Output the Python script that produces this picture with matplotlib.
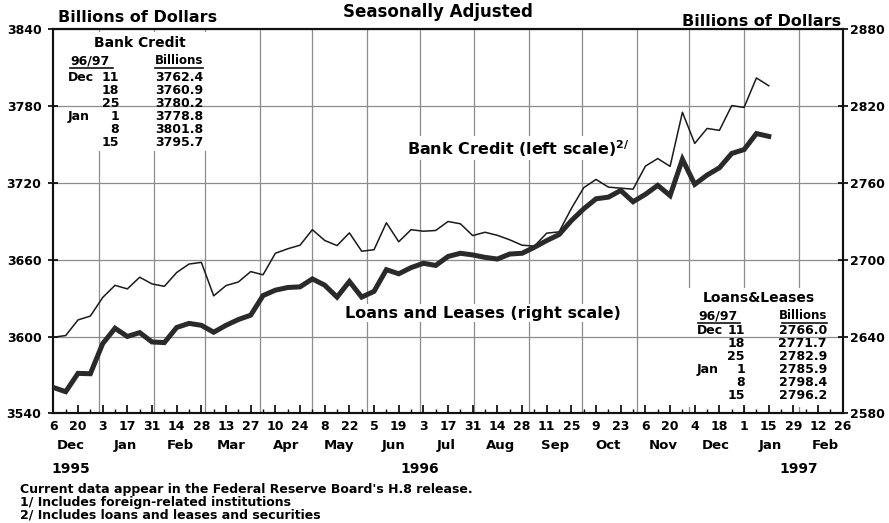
import pandas as pd
import matplotlib
matplotlib.use("Agg")
import matplotlib.pyplot as plt
from matplotlib.patches import Rectangle
from matplotlib.transforms import blended_transform_factory

plt.rcParams["font.family"] = ["DejaVu Sans"]
plt.rcParams["font.weight"] = "bold"
plt.rcParams["mathtext.fontset"] = "dejavusans"
plt.rcParams["mathtext.default"] = "bf"

# weekly data, Wednesdays from Dec 6 1995 to Jan 15 1997
weeks = pd.date_range("1995-12-06", periods=59, freq="7D")

bank_credit = [3599.5, 3600.8, 3613.0, 3616.0, 3630.5, 3640.0, 3637.2, 3646.3, 3641.1, 3639.2,
               3650.0, 3656.6, 3657.9, 3631.8, 3639.8, 3642.6, 3650.7, 3648.2, 3665.0, 3668.5,
               3671.3, 3683.4, 3675.0, 3671.0, 3680.9, 3666.6, 3667.8, 3688.8, 3674.0, 3683.4,
               3682.2, 3682.8, 3689.8, 3688.0, 3678.8, 3681.4, 3679.0, 3675.5, 3671.3, 3670.6,
               3680.7, 3681.7, 3700.0, 3716.2, 3722.6, 3716.6, 3715.8, 3715.0, 3733.0, 3738.9,
               3732.8, 3775.0, 3750.7, 3762.4, 3760.9, 3780.2, 3778.8, 3801.8, 3795.7]

loans_leases = [2600.3, 2597.0, 2611.3, 2611.0, 2634.5, 2646.5, 2640.1, 2643.1, 2635.8, 2635.3,
                2647.1, 2650.3, 2648.8, 2643.4, 2648.8, 2653.3, 2656.7, 2672.0, 2676.2, 2678.3,
                2678.8, 2685.0, 2680.1, 2670.8, 2683.0, 2670.8, 2675.3, 2692.2, 2689.0, 2693.8,
                2697.2, 2695.5, 2702.5, 2705.0, 2703.7, 2701.8, 2700.5, 2704.4, 2705.0, 2709.7,
                2714.9, 2719.6, 2730.5, 2739.7, 2747.5, 2748.8, 2754.0, 2745.2, 2751.0, 2758.0,
                2750.0, 2778.3, 2758.8, 2766.0, 2771.7, 2782.9, 2785.9, 2798.4, 2796.2]

table_months = ["Dec", "", "", "Jan", "", ""]
table_days = ["11", "18", "25", "1", "8", "15"]
bank_table = ["3762.4", "3760.9", "3780.2", "3778.8", "3801.8", "3795.7"]
loans_table = ["2766.0", "2771.7", "2782.9", "2785.9", "2798.4", "2796.2"]

left_ticks = [3540, 3600, 3660, 3720, 3780, 3840]
right_ticks = [2580, 2640, 2700, 2760, 2820, 2880]

years = ["1995", "1996", "1997"]
year_pos = pd.to_datetime(["1995-12-16", "1996-07-01", "1997-02-01"])

fig = plt.figure(figsize=(8.89, 5.23), dpi=100)
ax = fig.add_axes([0.060, 0.2094, 0.888, 0.7352])
ax2 = ax.twinx()

ax.set_xlim(pd.Timestamp("1995-12-06"), pd.Timestamp("1997-02-26"))
ax.set_ylim(3540, 3840)
ax2.set_ylim(2580, 2880)

# grid: horizontal at value ticks, vertical at month starts
ax.set_yticks(left_ticks)
ax2.set_yticks(right_ticks)
ax.grid(axis="y", color="#8c8c8c", lw=0.9, zorder=0)
for m in pd.date_range("1996-01-01", "1997-02-01", freq="MS"):
    ax.axvline(m, color="#8c8c8c", lw=0.9, zorder=0)

# white boxes behind the small tables
ax.add_patch(Rectangle((0.002, 0.683), 0.196, 0.31, transform=ax.transAxes,
                       facecolor="white", edgecolor="none", zorder=1))
ax.add_patch(Rectangle((0.8025, 0.017), 0.196, 0.309, transform=ax.transAxes,
                       facecolor="white", edgecolor="none", zorder=1))

ax.plot(weeks, bank_credit, color="#1a1a1a", lw=1.1, zorder=3)
ax2.plot(weeks, loans_leases, color="#2a2a2a", lw=3.6, zorder=3, solid_joinstyle="miter")

# x ticks
major = pd.date_range("1995-12-06", "1997-02-26", freq="14D")
minor = pd.date_range("1995-12-06", "1997-02-26", freq="7D")
ax.set_xticks(major)
ax.set_xticklabels([str(d.day) for d in major])
ax.set_xticks(minor, minor=True)
ax.tick_params(axis="x", which="major", direction="in", length=6, width=1.2, pad=5,
               labelsize=9)
ax.tick_params(axis="x", which="minor", direction="in", length=3, width=1.0)

ax.tick_params(axis="y", direction="inout", length=7, width=1.2, pad=5, labelsize=9)
ax2.tick_params(axis="y", direction="inout", length=7, width=1.2, pad=2, labelsize=9)

for a in (ax, ax2):
    for s in a.spines.values():
        s.set_linewidth(1.5)
        s.set_color("#111111")

# month and year labels below the axis
trans = blended_transform_factory(ax.transData, ax.transAxes)
for m in pd.date_range("1995-12-01", "1997-02-01", freq="MS"):
    ax.text(m + pd.Timedelta(days=15), -0.082, m.strftime("%b"), transform=trans,
            ha="center", va="center", fontsize=9.5)
for y, p in zip(years, year_pos):
    ax.text(p, -0.144, y, transform=trans, ha="center", va="center", fontsize=10)

# headings
fig.text(0.493, 0.977, "Seasonally Adjusted", ha="center", va="center", fontsize=12)
fig.text(0.065, 0.967, "Billions of Dollars", ha="left", va="center", fontsize=11.5)
fig.text(0.946, 0.958, "Billions of Dollars", ha="right", va="center", fontsize=11.5)

# series labels
ax.text(0.448, 0.690, "Bank Credit (left scale)$^{2/}$", transform=ax.transAxes,
        ha="left", va="center", fontsize=11.5, zorder=2,
        bbox=dict(facecolor="white", edgecolor="none", pad=1))
ax.text(0.369, 0.261, "Loans and Leases (right scale)", transform=ax.transAxes,
        ha="left", va="center", fontsize=11.5, zorder=2,
        bbox=dict(facecolor="white", edgecolor="none", pad=1))


def small_table(x_title, y_title, title, x_month, x_day, x_val, y_row0, values,
                under_left, under_right):
    step = 0.0338
    ax.text(x_title, y_title, title, transform=ax.transAxes, ha="center", va="center",
            fontsize=10, zorder=4)
    yh = y_title - 0.046
    ax.text(under_left[0], yh, "96/97", transform=ax.transAxes, ha="left", va="center",
            fontsize=9, zorder=4)
    ax.text(x_val, yh, "Billions", transform=ax.transAxes, ha="right", va="center",
            fontsize=8.5, zorder=4)
    for x0, x1 in (under_left, under_right):
        ax.plot([x0, x1], [yh - 0.018, yh - 0.018], transform=ax.transAxes,
                color="#111111", lw=1.2, zorder=4)
    for i in range(len(values)):
        yy = y_row0 - i * step
        ax.text(x_month, yy, table_months[i], transform=ax.transAxes, ha="left",
                va="center", fontsize=9, zorder=4)
        ax.text(x_day, yy, table_days[i], transform=ax.transAxes, ha="right",
                va="center", fontsize=9, zorder=4)
        ax.text(x_val, yy, values[i], transform=ax.transAxes, ha="right",
                va="center", fontsize=9, zorder=4)


small_table(0.110, 0.963, "Bank Credit", 0.0186, 0.0833, 0.190, 0.875, bank_table,
            (0.0212, 0.0757), (0.129, 0.190))
small_table(0.894, 0.300, "Loans&Leases", 0.815, 0.876, 0.980, 0.2146, loans_table,
            (0.8166, 0.8699), (0.9227, 0.9797))

# footnotes
notes = ["Current data appear in the Federal Reserve Board's H.8 release.",
         "1/ Includes foreign-related institutions",
         "2/ Includes loans and leases and securities"]
for k, n in enumerate(notes):
    fig.text(0.0225, 0.065 - k * 0.0249, n, ha="left", va="center", fontsize=9)

fig.savefig("out.png", dpi=100, facecolor="white")
